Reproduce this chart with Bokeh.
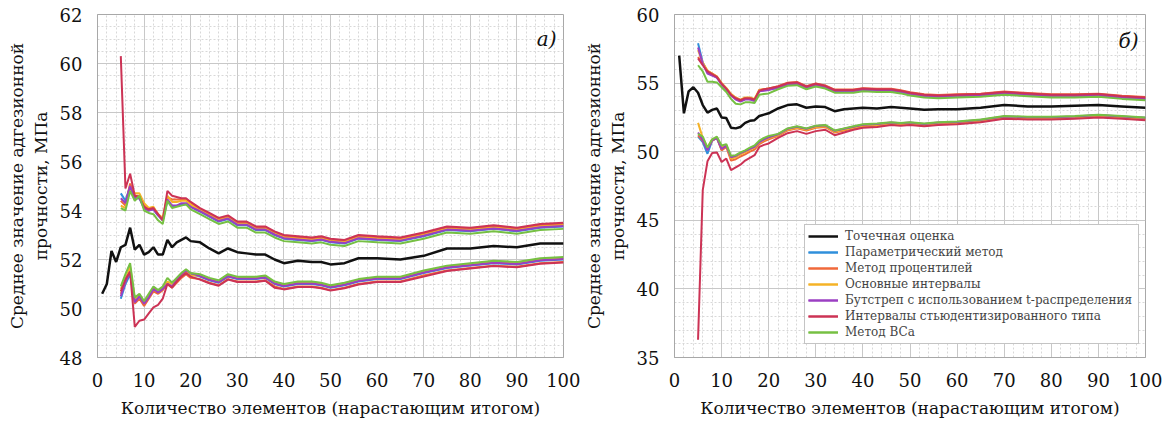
from bokeh.plotting import figure
from bokeh.models import SingleIntervalTicker, Range1d, Legend, LegendItem, Label
from bokeh.layouts import row
from bokeh.embed import file_html
from bokeh.resources import INLINE

FONT = "DejaVu Serif"

# cumulative number of elements
X = [1, 2, 3, 4, 5, 6, 7, 8, 9, 10, 11, 12, 13, 14, 15, 16, 17, 18, 19, 20,
     22, 24, 26, 28, 30, 32, 34, 36, 38, 40,
     43, 46, 48, 50, 53, 56, 60, 65, 70, 75, 80, 85, 90, 95, 100]
XB = X[4:]  # bootstrap intervals start at 5 elements

LABELS = ["Точечная оценка", "Параметрический метод", "Метод процентилей",
          "Основные интервалы", "Бутстреп с использованием t-распределения",
          "Интервалы стьюдентизированного типа", "Метод BCa"]
COLORS = ["#111111", "#2f8fdb", "#f0693a", "#f5b226", "#9b3fc2", "#cc3355", "#76c043"]

# ---------------- panel а) ----------------
A_POINT = [50.6, 51.0, 52.35, 51.9, 52.5, 52.6, 53.3, 52.4, 52.6, 52.2,
           52.3, 52.5, 52.2, 52.2, 52.8, 52.5, 52.7, 52.8, 52.9, 52.75,
           52.7, 52.45, 52.25, 52.45, 52.3, 52.25, 52.2, 52.2, 52.0, 51.85,
           51.95, 51.9, 51.9, 51.8, 51.85, 52.05, 52.05, 52.0, 52.15, 52.45, 52.45, 52.55, 52.5, 52.65, 52.65]

A_PARAM_UP = [54.7, 54.4, 55.0, 54.5, 54.5, 54.1, 54.0, 54.05, 53.8, 53.6, 54.4, 54.15, 54.2, 54.25, 54.25, 54.15,
              53.95, 53.75, 53.55, 53.65, 53.4, 53.4, 53.2, 53.2, 53.0, 52.85, 52.8, 52.75, 52.8, 52.7, 52.65,
              52.85, 52.8, 52.75, 52.95, 53.2, 53.15, 53.25, 53.15, 53.3, 53.35]
A_PERC_UP = [54.4, 54.2, 55.1, 54.6, 54.6, 54.2, 54.05, 54.1, 53.85, 53.65, 54.55, 54.45, 54.45, 54.45, 54.45, 54.3,
             54.05, 53.85, 53.65, 53.75, 53.5, 53.5, 53.3, 53.3, 53.1, 52.95, 52.9, 52.85, 52.9, 52.8, 52.75,
             52.95, 52.9, 52.85, 53.05, 53.3, 53.25, 53.35, 53.25, 53.4, 53.45]
A_BASIC_UP = [54.2, 54.1, 54.9, 54.7, 54.7, 54.3, 54.1, 54.15, 53.85, 53.7, 54.6, 54.35, 54.35, 54.4, 54.4, 54.25,
              54.0, 53.8, 53.6, 53.7, 53.45, 53.45, 53.25, 53.25, 53.05, 52.9, 52.85, 52.8, 52.85, 52.75, 52.7,
              52.9, 52.85, 52.8, 53.0, 53.25, 53.2, 53.3, 53.2, 53.35, 53.4]
A_TBOOT_UP = [54.5, 54.3, 55.0, 54.5, 54.5, 54.1, 54.0, 54.05, 53.8, 53.6, 54.45, 54.2, 54.2, 54.3, 54.3, 54.15,
              53.97, 53.77, 53.57, 53.67, 53.42, 53.42, 53.22, 53.22, 53.02, 52.87, 52.82, 52.77, 52.82, 52.72, 52.67,
              52.87, 52.82, 52.77, 52.97, 53.22, 53.17, 53.27, 53.17, 53.32, 53.37]
A_STUD_UP = [60.3, 54.9, 55.5, 54.6, 54.55, 54.15, 54.05, 54.1, 53.85, 53.6, 54.8, 54.6, 54.55, 54.5, 54.5, 54.35,
             54.1, 53.9, 53.7, 53.8, 53.55, 53.55, 53.35, 53.35, 53.15, 53.0, 52.95, 52.9, 52.95, 52.85, 52.8,
             53.0, 52.95, 52.9, 53.1, 53.35, 53.3, 53.4, 53.3, 53.45, 53.5]
A_BCA_UP = [54.1, 54.0, 54.8, 54.4, 54.6, 54.0, 53.9, 53.85, 53.6, 53.45, 54.4, 54.1, 54.15, 54.2, 54.25, 54.05,
            53.85, 53.65, 53.45, 53.55, 53.3, 53.3, 53.1, 53.1, 52.9, 52.75, 52.7, 52.65, 52.7, 52.6, 52.55,
            52.75, 52.7, 52.65, 52.85, 53.1, 53.05, 53.15, 53.05, 53.2, 53.25]

A_PARAM_LO = [50.4, 51.0, 51.4, 50.3, 50.5, 50.2, 50.5, 50.8, 50.7, 50.8, 51.0, 50.9, 51.15, 51.4, 51.55, 51.4,
              51.3, 51.15, 51.05, 51.3, 51.2, 51.2, 51.2, 51.25, 51.0, 50.9, 51.0, 51.0, 50.95, 50.85, 50.95,
              51.1, 51.2, 51.2, 51.45, 51.65, 51.75, 51.85, 51.8, 51.95, 52.0]
A_PERC_LO = [50.6, 51.1, 51.55, 50.2, 50.4, 50.1, 50.4, 50.7, 50.6, 50.75, 51.0, 50.85, 51.05, 51.25, 51.4, 51.25,
             51.2, 51.05, 50.95, 51.2, 51.1, 51.1, 51.1, 51.15, 50.9, 50.8, 50.9, 50.9, 50.85, 50.75, 50.85,
             51.0, 51.1, 51.1, 51.35, 51.55, 51.65, 51.75, 51.7, 51.85, 51.9]
A_BASIC_LO = [50.8, 51.2, 51.7, 50.4, 50.55, 50.25, 50.55, 50.85, 50.7, 50.85, 51.1, 51.0, 51.2, 51.35, 51.5, 51.35,
              51.35, 51.2, 51.1, 51.35, 51.25, 51.25, 51.25, 51.3, 51.05, 50.95, 51.05, 51.05, 51.0, 50.9, 51.0,
              51.15, 51.25, 51.25, 51.5, 51.7, 51.8, 51.9, 51.85, 52.0, 52.05]
A_TBOOT_LO = [50.5, 51.1, 51.5, 50.25, 50.5, 50.2, 50.45, 50.8, 50.65, 50.8, 51.0, 50.9, 51.15, 51.4, 51.55, 51.45,
              51.32, 51.17, 51.07, 51.32, 51.22, 51.22, 51.22, 51.27, 51.02, 50.92, 51.02, 51.02, 50.97, 50.87, 50.97,
              51.12, 51.22, 51.22, 51.47, 51.67, 51.77, 51.87, 51.82, 51.97, 52.02]
A_STUD_LO = [50.7, 51.2, 51.5, 49.25, 49.5, 49.55, 49.8, 50.05, 50.15, 50.4, 51.0, 50.85, 51.1, 51.3, 51.45, 51.3,
             51.18, 51.03, 50.93, 51.18, 51.08, 51.08, 51.08, 51.13, 50.85, 50.78, 50.88, 50.88, 50.83, 50.73, 50.83,
             50.98, 51.08, 51.08, 51.3, 51.53, 51.63, 51.73, 51.68, 51.83, 51.88]
A_BCA_LO = [50.9, 51.4, 51.85, 50.45, 50.6, 50.3, 50.6, 50.9, 50.75, 50.9, 51.25, 51.05, 51.25, 51.45, 51.6, 51.45,
            51.4, 51.25, 51.15, 51.4, 51.3, 51.3, 51.3, 51.35, 51.1, 51.0, 51.1, 51.1, 51.05, 50.95, 51.05,
            51.2, 51.3, 51.3, 51.55, 51.75, 51.85, 51.95, 51.9, 52.05, 52.1]

# ---------------- panel б) ----------------
B_POINT = [57.0, 52.8, 54.4, 54.7, 54.3, 53.4, 52.85, 53.05, 53.15, 52.5,
           52.45, 51.75, 51.7, 51.8, 52.1, 52.25, 52.3, 52.6, 52.7, 52.8,
           53.15, 53.4, 53.45, 53.2, 53.3, 53.25, 52.95, 53.1, 53.15, 53.2,
           53.15, 53.25, 53.2, 53.15, 53.05, 53.1, 53.1, 53.2, 53.4, 53.3, 53.3, 53.35, 53.4, 53.3, 53.2]

B_PARAM_UP = [57.9, 56.5, 55.8, 55.6, 55.4, 54.95, 54.6, 54.15, 53.85, 53.7, 53.85, 53.85, 53.75, 54.45, 54.5, 54.55,
              54.65, 54.9, 54.95, 54.65, 54.85, 54.7, 54.4, 54.4, 54.4, 54.5, 54.45, 54.45, 54.35, 54.2, 54.05,
              54.0, 54.05, 54.1, 54.25, 54.15, 54.05, 54.05, 54.1, 53.95, 53.85]
B_PERC_UP = [56.9, 56.4, 55.9, 55.7, 55.45, 55.0, 54.6, 54.2, 53.9, 53.75, 53.9, 53.9, 53.8, 54.5, 54.55, 54.6,
             54.78, 55.03, 55.08, 54.78, 54.98, 54.83, 54.53, 54.53, 54.53, 54.63, 54.58, 54.58, 54.48, 54.33, 54.18,
             54.13, 54.18, 54.23, 54.38, 54.28, 54.18, 54.18, 54.23, 54.08, 53.98]
B_BASIC_UP = [57.4, 56.5, 55.9, 55.7, 55.5, 55.0, 54.65, 54.2, 53.95, 53.8, 53.95, 53.95, 53.85, 54.5, 54.55, 54.6,
              54.7, 54.95, 55.0, 54.7, 54.9, 54.75, 54.45, 54.45, 54.45, 54.55, 54.5, 54.5, 54.4, 54.25, 54.1,
              54.05, 54.1, 54.15, 54.3, 54.2, 54.1, 54.1, 54.15, 54.0, 53.9]
B_TBOOT_UP = [57.6, 56.4, 55.7, 55.55, 55.4, 54.9, 54.55, 54.1, 53.8, 53.65, 53.8, 53.8, 53.7, 54.4, 54.45, 54.5,
              54.67, 54.92, 54.97, 54.67, 54.87, 54.72, 54.42, 54.42, 54.42, 54.52, 54.47, 54.47, 54.37, 54.22, 54.07,
              54.02, 54.07, 54.12, 54.27, 54.17, 54.07, 54.07, 54.12, 53.97, 53.87]
B_STUD_UP = [56.8, 56.3, 55.85, 55.65, 55.45, 54.95, 54.6, 54.15, 53.9, 53.75, 53.9, 53.9, 53.8, 54.45, 54.55, 54.6,
             54.75, 55.0, 55.05, 54.75, 54.95, 54.8, 54.5, 54.5, 54.5, 54.6, 54.55, 54.55, 54.45, 54.3, 54.15,
             54.1, 54.15, 54.2, 54.35, 54.25, 54.15, 54.15, 54.2, 54.05, 53.95]
B_BCA_UP = [56.3, 55.85, 55.1, 55.1, 55.05, 54.7, 54.35, 53.85, 53.5, 53.45, 53.6, 53.6, 53.55, 54.15, 54.2, 54.25,
            54.55, 54.8, 54.85, 54.55, 54.75, 54.6, 54.3, 54.3, 54.3, 54.4, 54.35, 54.35, 54.25, 54.1, 53.95,
            53.9, 53.95, 54.0, 54.15, 54.05, 53.95, 53.95, 54.0, 53.85, 53.75]

B_PARAM_LO = [51.1, 50.7, 49.85, 50.8, 51.0, 50.15, 50.4, 49.55, 49.65, 49.85, 50.0, 50.2, 50.35, 50.7, 50.9, 51.05,
              51.25, 51.65, 51.8, 51.65, 51.85, 51.9, 51.5, 51.65, 51.8, 51.95, 52.0, 52.1, 52.05, 52.1, 52.0,
              52.1, 52.15, 52.3, 52.55, 52.5, 52.5, 52.55, 52.65, 52.55, 52.45]
B_PERC_LO = [51.2, 50.8, 50.2, 50.8, 51.0, 50.1, 50.35, 49.35, 49.45, 49.65, 49.8, 50.0, 50.15, 50.55, 50.75, 50.9,
             51.15, 51.55, 51.7, 51.55, 51.75, 51.8, 51.4, 51.55, 51.7, 51.85, 51.9, 52.0, 51.95, 52.0, 51.9,
             52.0, 52.05, 52.2, 52.45, 52.4, 52.4, 52.45, 52.55, 52.45, 52.35]
B_BASIC_LO = [52.1, 51.0, 50.3, 50.9, 51.05, 50.3, 50.5, 49.5, 49.6, 49.8, 49.95, 50.15, 50.3, 50.65, 50.85, 51.0,
              51.2, 51.6, 51.75, 51.6, 51.8, 51.85, 51.45, 51.6, 51.75, 51.9, 51.95, 52.05, 52.0, 52.05, 51.95,
              52.05, 52.1, 52.25, 52.5, 52.45, 52.45, 52.5, 52.6, 52.5, 52.4]
B_TBOOT_LO = [51.4, 50.85, 50.1, 50.85, 51.0, 50.2, 50.45, 49.6, 49.7, 49.9, 50.05, 50.2, 50.35, 50.7, 50.9, 51.05,
              51.27, 51.67, 51.82, 51.67, 51.87, 51.92, 51.52, 51.67, 51.82, 51.97, 52.02, 52.12, 52.07, 52.12, 52.02,
              52.12, 52.17, 52.32, 52.57, 52.52, 52.52, 52.57, 52.67, 52.57, 52.47]
B_STUD_LO = [36.3, 47.2, 49.3, 49.9, 49.95, 49.25, 49.5, 48.65, 48.85, 49.05, 49.35, 49.55, 49.75, 50.35, 50.5, 50.6,
             51.0, 51.35, 51.5, 51.3, 51.5, 51.6, 51.2, 51.4, 51.6, 51.75, 51.8, 51.95, 51.9, 51.95, 51.85,
             51.95, 52.0, 52.15, 52.4, 52.35, 52.35, 52.4, 52.5, 52.4, 52.3]
B_BCA_LO = [51.3, 51.1, 50.3, 50.9, 51.1, 50.45, 50.55, 49.7, 49.75, 49.95, 50.1, 50.3, 50.45, 50.8, 51.0, 51.15,
            51.3, 51.7, 51.85, 51.7, 51.9, 51.95, 51.55, 51.7, 51.85, 52.0, 52.05, 52.15, 52.1, 52.15, 52.05,
            52.15, 52.2, 52.35, 52.6, 52.55, 52.55, 52.6, 52.7, 52.6, 52.5]

A_UPS = [A_PARAM_UP, A_PERC_UP, A_BASIC_UP, A_TBOOT_UP, A_STUD_UP, A_BCA_UP]
A_LOS = [A_PARAM_LO, A_PERC_LO, A_BASIC_LO, A_TBOOT_LO, A_STUD_LO, A_BCA_LO]
B_UPS = [B_PARAM_UP, B_PERC_UP, B_BASIC_UP, B_TBOOT_UP, B_STUD_UP, B_BCA_UP]
B_LOS = [B_PARAM_LO, B_PERC_LO, B_BASIC_LO, B_TBOOT_LO, B_STUD_LO, B_BCA_LO]

X_LABEL = "Количество элементов (нарастающим итогом)"
Y_LABEL = "Среднее значение адгезионной\nпрочности, МПа"


def make_panel(width, left_border, y0, y1, y_int, y_minor, point, ups, los, tag, tag_y, legend=False):
    p = figure(width=width, height=421, x_range=Range1d(0, 100), y_range=Range1d(y0, y1),
               output_backend="svg", toolbar_location=None,
               min_border_left=left_border, min_border_right=17,
               min_border_top=14, min_border_bottom=64)
    p.background_fill_color = "white"
    p.outline_line_color = "#a8a8a8"
    p.outline_line_width = 1

    xt = SingleIntervalTicker(interval=10, num_minor_ticks=5)
    yt = SingleIntervalTicker(interval=y_int, num_minor_ticks=y_minor)
    p.xaxis.ticker = xt
    p.yaxis.ticker = yt
    p.xgrid.ticker = xt
    p.ygrid.ticker = yt
    for g in (p.xgrid, p.ygrid):
        g.grid_line_color = "#c8c8c8"
        g.grid_line_width = 1
        g.minor_grid_line_color = "#d8d8d8"
        g.minor_grid_line_dash = "2 2"
        g.minor_grid_line_width = 1

    for ax in (p.xaxis, p.yaxis):
        ax.axis_line_color = "#a8a8a8"
        ax.major_tick_line_color = None
        ax.minor_tick_line_color = None
        ax.major_label_text_font = FONT
        ax.major_label_text_font_size = "18px"
        ax.major_label_text_color = "#111111"
        ax.axis_label_text_font = FONT
        ax.axis_label_text_font_size = "17px"
        ax.axis_label_text_font_style = "normal"
        ax.axis_label_text_color = "#111111"
        ax.major_label_standoff = 9
    p.xaxis.axis_label = X_LABEL
    p.yaxis.axis_label = Y_LABEL
    p.xaxis.axis_label_standoff = 8
    p.yaxis.axis_label_standoff = 6

    rp = p.line(X, point, line_color=COLORS[0], line_width=2.5)
    items = [LegendItem(label=LABELS[0], renderers=[rp])]
    for i in range(6):
        ru = p.line(XB, ups[i], line_color=COLORS[i + 1], line_width=2)
        rl = p.line(XB, los[i], line_color=COLORS[i + 1], line_width=2)
        items.append(LegendItem(label=LABELS[i + 1], renderers=[ru, rl]))

    p.add_layout(Label(x=98.5, y=tag_y, text=tag, text_font=FONT, text_font_style="italic",
                       text_font_size="20px", text_align="right", text_baseline="middle",
                       text_color="#111111"))

    if legend:
        lg = Legend(items=items, location=(130, 13), orientation="vertical")
        lg.label_text_font = FONT
        lg.label_text_font_size = "12px"
        lg.label_width = 290
        lg.label_height = 16
        lg.glyph_height = 16
        lg.glyph_width = 30
        lg.label_standoff = 7
        lg.spacing = 0
        lg.padding = 3
        lg.margin = 0
        lg.border_line_color = "#8a8a8a"
        lg.border_line_width = 1
        lg.background_fill_alpha = 1
        p.add_layout(lg, "center")
    return p


pa = make_panel(580, 97, 48, 62, 2, 4, A_POINT, A_UPS, A_LOS, "а)", 61.0)
pb = make_panel(582, 85, 35, 60, 5, 5, B_POINT, B_UPS, B_LOS, "б)", 58.1, legend=True)

layout = row(pa, pb)
open("out.html", "w").write(file_html(layout, INLINE))
